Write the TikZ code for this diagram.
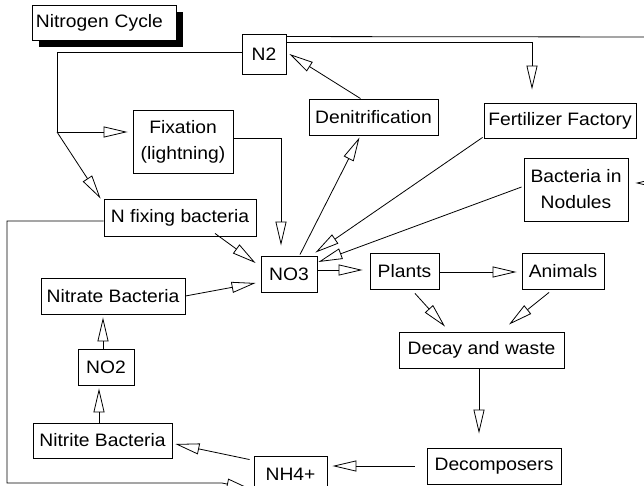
\documentclass[tikz,border=0pt]{standalone}
\usepackage{fontspec}
\setmainfont{Liberation Sans}[FakeStretch=1.07]
\usetikzlibrary{arrows.meta,calc,shadows}
\begin{document}
\begin{tikzpicture}[x=1pt,y=-1pt,
  box/.style={draw,line width=0.9pt,fill=white,inner sep=0pt,align=center,
    font=\fontsize{18}{26}\selectfont},
  arr/.style={line width=0.8pt,-{Triangle[open,length=24pt,width=11pt,line width=0.8pt]}},
  ln/.style={line width=0.8pt}]
\useasboundingbox (0,0) rectangle (644,486);
\clip (0,0) rectangle (644,486);
\fill[white] (0,0) rectangle (644,486);
% nodes
\node[box,anchor=north west,minimum height=35pt,text width=137pt,align=left,inner xsep=3.5pt,
  drop shadow={shadow xshift=7pt,shadow yshift=-7pt,fill=black,opacity=1}] (title) at (32,5) {Nitrogen Cycle};
\node[box,minimum width=44pt,minimum height=40pt] (n2) at (264,54) {N2};
\node[box,minimum width=100pt,minimum height=63pt] (fix) at (183,141.5) {Fixation\\(lightning)};
\node[box,minimum width=152pt,minimum height=37pt] (nfb) at (180,217.5) {N fixing bacteria};
\node[box,minimum width=56pt,minimum height=36pt] (no3) at (289,274) {NO3};
\node[box,minimum width=129pt,minimum height=36pt] (denit) at (373.5,117) {Denitrification};
\node[box,minimum width=152pt,minimum height=35pt] (fert) at (560,120.5) {Fertilizer Factory};
\node[box,minimum width=104pt,minimum height=63pt] (bin) at (576,189.5) {Bacteria in\\Nodules};
\node[box,minimum width=69pt,minimum height=36pt] (plants) at (404.5,271) {Plants};
\node[box,minimum width=82pt,minimum height=36pt] (animals) at (563,271) {Animals};
\node[box,minimum width=165pt,minimum height=36pt] (decay) at (481.5,350) {Decay and waste};
\node[box,minimum width=134pt,minimum height=36pt] (decomp) at (494,466) {Decomposers};
\node[box,minimum width=73pt,minimum height=36pt] (nh4) at (290.5,474) {NH4+};
\node[box,minimum width=139pt,minimum height=35pt] (nitrite) at (102.5,440.5) {Nitrite Bacteria};
\node[box,minimum width=56pt,minimum height=36pt] (no2) at (106,367) {NO2};
\node[box,minimum width=144pt,minimum height=36pt] (nitrate) at (113,296) {Nitrate Bacteria};
% helper coordinates
\coordinate (j) at (57,132);
\coordinate (offR) at (660,37);
\coordinate (bl) at (7,483);
% connectors
\draw[ln] ($(n2.west)+(0,-2)$) -| (j);
\draw[arr] (j) -- ($(fix.west)+(-5,-9.5)$);
\draw[arr] (j) -- ($(nfb.north west)+(-3,0)$);
\draw[arr] ($(fix.east)+(0,-3.5)$) -| ($(no3.north)+(-8,-10)$);
\draw[arr] ($(denit.north)+(-13,0)$) -- ($(n2.east)+(3,0)$);
\draw[arr] ($(no3.north)+(11,-1)$) -- ($(denit.south)+(-14,2)$);
\draw[arr] ($(n2.north east)+(0,3)$) -- (offR) |- ($(bin.east)+(7,-6.5)$);
\draw[arr] ($(n2.north east)+(0,9)$) -| ($(fert.north)+(-28,-13)$);
\draw[arr] ($(fert.south west)+(-1,-1)$) -- ($(no3.north east)+(-2,-3)$);
\draw[arr] ($(bin.west)+(-2,-2.5)$) -- ($(no3.east)+(1,-12)$);
\draw[arr] ($(no3.east)+(0,-4)$) -- ($(plants.west)+(-7,-1)$);
\draw[arr] ($(plants.east)+(0,1)$) -- ($(animals.west)+(-5,1)$);
\draw[arr] ($(plants.south)+(10.5,4)$) -- ($(decay.north)+(-36.5,-5)$);
\draw[arr] ($(animals.south)+(-14,3)$) -- ($(decay.north)+(27.5,-7)$);
\draw[arr] ($(decay.south)+(-2.5,0)$) -- ($(decomp.north)+(-15,-14)$);
\draw[arr] ($(decomp.west)+(-12,0)$) -- ($(nh4.east)+(5,-8)$);
\draw[arr] ($(nh4.north west)+(-4,4)$) -- ($(nitrite.east)+(3,3.5)$);
\draw[arr] ($(nitrite.north)+(-3.5,0)$) -- ($(no2.south)+(-7,3)$);
\draw[arr] ($(no2.north)+(-3,0)$) -- ($(nitrate.south)+(-10,3)$);
\draw[arr] (nitrate.east) -- ($(no3.west)+(-5,9)$);
\draw[arr] ($(nfb.south)+(35,-3)$) -- ($(no3.west)+(-5,-11)$);
\draw[arr] ($(nfb.west)+(0,3.5)$) -| (bl) -- ++(215,0) -- ($(nh4.west)+(-3,15)$);
\end{tikzpicture}
\end{document}
